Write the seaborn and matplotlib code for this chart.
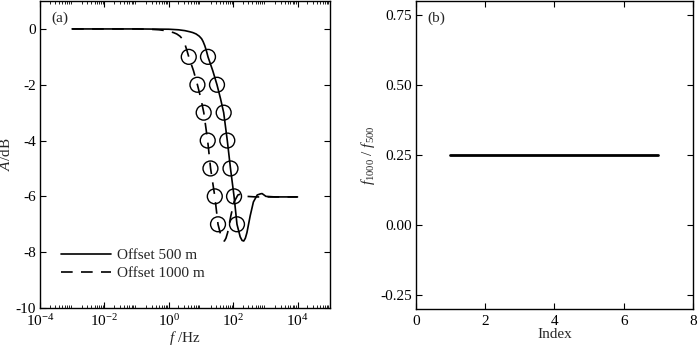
import matplotlib
matplotlib.use("Agg")
import matplotlib.pyplot as plt
import seaborn as sns
import numpy as np
from matplotlib.ticker import LogLocator, NullFormatter

# Amplitude response, offset 500 m (frequency in Hz, amplitude in dB)
f_500 = [0.001, 0.1, 1, 2, 3.16, 4.5, 5.6, 7.1, 8.9, 10.5, 11.7, 13.2, 14.8, 16.6, 23.4, 31.6,
         40.7, 51, 66, 83, 107, 132, 166, 190, 214, 240, 269, 339, 427, 562, 708, 794, 1047,
         1995, 10000]
a_500 = [0, 0, -0.01, -0.03, -0.06, -0.1, -0.13, -0.18, -0.26, -0.35, -0.45, -0.6, -0.78, -1.0,
         -1.5, -2.0, -2.5, -3.0, -4.0, -5.0, -6.0, -7.0, -7.45, -7.58, -7.6, -7.5, -7.3, -6.7,
         -6.2, -5.95, -5.91, -5.9, -6.0, -6.02, -6.02]

# Amplitude response, offset 1000 m
f_1000 = [0.001, 0.1, 0.25, 0.5, 0.79, 1.12, 1.4, 1.78, 2.24, 2.63, 2.95, 3.3, 3.7, 4.2, 5.9,
          7.8, 10, 12.3, 16.2, 20, 27, 34, 42.7, 48, 53.7, 60, 67.6, 85, 107, 141, 178, 200,
          263, 501, 10000]
a_1000 = [0, 0, -0.01, -0.03, -0.06, -0.1, -0.13, -0.18, -0.26, -0.35, -0.45, -0.6, -0.78, -1.0,
          -1.5, -2.0, -2.5, -3.0, -4.0, -5.0, -6.0, -7.0, -7.45, -7.58, -7.6, -7.5, -7.3, -6.7,
          -6.2, -5.95, -5.91, -5.9, -6.0, -6.02, -6.02]

# frequencies where each curve crosses -1 ... -7 dB
levels = [-1, -2, -3, -4, -5, -6, -7]
fc_500 = [16.6, 31.6, 51, 66, 83, 107, 132]
fc_1000 = [4.2, 7.8, 12.2, 16.3, 19.8, 27, 34]

# ratio f1000 / f500 per level index
index = [1, 2, 3, 4, 5, 6, 7]
ratio = [0.25, 0.25, 0.25, 0.25, 0.25, 0.25, 0.25]

sns.set_style("ticks")
plt.rcParams["font.family"] = ["Liberation Serif", "DejaVu Serif"]
plt.rcParams["mathtext.fontset"] = "custom"
plt.rcParams["mathtext.rm"] = "Liberation Serif"
plt.rcParams["mathtext.it"] = "Liberation Serif:italic"
plt.rcParams["axes.unicode_minus"] = False
plt.rcParams["font.size"] = 11
plt.rcParams["axes.edgecolor"] = "black"
plt.rcParams["xtick.color"] = "black"
plt.rcParams["ytick.color"] = "black"

fig = plt.figure(figsize=(7.0, 3.48), dpi=100)
ax1 = fig.add_axes([0.057, 0.115, 0.414, 0.882])
ax2 = fig.add_axes([0.594, 0.112, 0.396, 0.885])

# Panel (a)
sns.lineplot(x=f_500, y=a_500, ax=ax1, color="black", lw=1.2, sort=False,
             estimator=None, label="Offset 500 m")
sns.lineplot(x=f_1000, y=a_1000, ax=ax1, color="black", lw=1.2, sort=False,
             estimator=None, label="Offset 1000 m")
ax1.lines[1].set_dashes([7, 5])
sns.scatterplot(x=fc_500, y=levels, ax=ax1, marker="o", s=115,
                facecolors="none", edgecolors="black", linewidth=1.0, zorder=3)
sns.scatterplot(x=fc_1000, y=levels, ax=ax1, marker="o", s=115,
                facecolors="none", edgecolors="black", linewidth=1.0, zorder=3)

ax1.set_xscale("log")
ax1.set_xlim(1e-4, 1e5)
ax1.set_ylim(-10, 1)
ax1.set_xticks([1e-4, 1e-2, 1e0, 1e2, 1e4])
ax1.xaxis.set_minor_locator(LogLocator(base=10, subs=np.arange(2, 10), numticks=20))
ax1.xaxis.set_minor_formatter(NullFormatter())
ax1.set_yticks([0, -2, -4, -6, -8, -10])
ax1.set_xlabel("$f$ /Hz", labelpad=0)
ax1.set_ylabel("$A$/dB", labelpad=2)
ax1.text(0.04, 0.965, "(a)", transform=ax1.transAxes, va="top", ha="left")
ax1.legend(loc="lower left", bbox_to_anchor=(0.05, 0.07), frameon=False,
           handlelength=3.3, handletextpad=0.4, labelspacing=0.3, borderaxespad=0)

# Panel (b)
sns.lineplot(x=index, y=ratio, ax=ax2, color="black", lw=2.0)
ax2.set_xlim(0, 8)
ax2.set_ylim(-0.3, 0.8)
ax2.set_xticks([0, 2, 4, 6, 8])
ax2.set_yticks([-0.25, 0.0, 0.25, 0.5, 0.75])
ax2.set_yticklabels(["-0.25", "0.00", "0.25", "0.50", "0.75"])
ax2.set_xlabel("Index", labelpad=0)
ax2.set_ylabel("$f_{1000}$ / $f_{500}$", labelpad=2)
ax2.text(0.04, 0.965, "(b)", transform=ax2.transAxes, va="top", ha="left")

for ax in (ax1, ax2):
    ax.tick_params(which="both", direction="in", top=True, right=True, labelsize=11, pad=3)
    ax.tick_params(which="major", length=4, width=0.8)
    ax.tick_params(which="minor", length=2, width=0.6)
    ax.tick_params(axis="x", which="major", pad=4)
    for sp in ax.spines.values():
        sp.set_linewidth(1.0)

fig.savefig("out.png", dpi=100)
